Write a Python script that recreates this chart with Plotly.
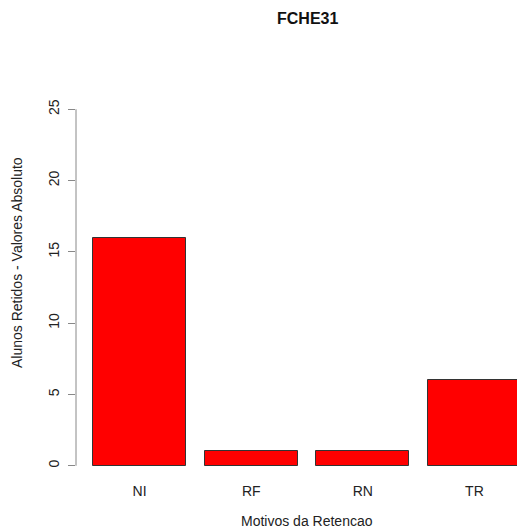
import plotly.graph_objects as go

categories = ["NI", "RF", "RN", "TR"]
values = [16, 1, 1, 6]
y_ticks = [0, 5, 10, 15, 20, 25]
title_text = "FCHE31"
x_title = "Motivos da Retencao"
y_title = "Alunos Retidos - Valores Absoluto"

# R barplot geometry: width 1, space 0.2
bar_w = 1.0
space = 0.2
centers = [space + i * (bar_w + space) + bar_w / 2 for i in range(len(categories))]

FONT = "Liberation Sans, Arial, sans-serif"
TXT = "#222222"

fig = go.Figure()
fig.add_trace(go.Bar(
    x=centers, y=values, width=bar_w,
    marker=dict(color="#FF0000", line=dict(color="#333333", width=1)),
    hoverinfo="skip",
))

xmin = 0.016
fig.update_layout(
    width=517, height=530,
    margin=dict(l=76, r=0, t=95, b=50),
    paper_bgcolor="white", plot_bgcolor="white",
    showlegend=False,
    font=dict(family=FONT, size=14, color=TXT),
    bargap=0,
)
fig.update_xaxes(
    automargin=False,
    range=[xmin, xmin + 441 / 93.0],
    tickvals=centers, ticktext=categories,
    ticks="", showline=False, showgrid=False, zeroline=False,
    tickfont=dict(size=14, family=FONT, color=TXT),
    ticklabelstandoff=1,
)
fig.update_yaxes(
    automargin=False,
    range=[-1, 26],
    tickvals=y_ticks, ticktext=[str(v) for v in y_ticks],
    ticks="outside", ticklen=7, tickcolor="#888888", tickwidth=1,
    tickangle=-90,
    showline=False, showgrid=False, zeroline=False,
    tickfont=dict(size=14, family=FONT, color=TXT),
    ticklabelstandoff=3,
)
# y axis line spanning only the tick range, like R's axis()
fig.add_shape(type="line", xref="paper", yref="y",
              x0=0, x1=0, y0=min(y_ticks), y1=max(y_ticks),
              line=dict(color="#888888", width=1))
mid_x = (xmin + (xmin + 462 / 93.0)) / 2
fig.add_annotation(
    text="<b>" + title_text + "</b>", xref="x", yref="paper",
    x=mid_x, y=1, yshift=77, yanchor="middle",
    showarrow=False, font=dict(size=16, family=FONT, color="#111111"),
)
fig.add_annotation(
    text=x_title, xref="x", yref="paper",
    x=mid_x, y=0, yshift=-41, yanchor="middle",
    showarrow=False, font=dict(size=14, family=FONT, color=TXT),
)
fig.add_annotation(
    text=y_title, xref="paper", yref="paper",
    x=0, xshift=-59, y=0.5636, xanchor="center", yanchor="middle",
    textangle=-90,
    showarrow=False, font=dict(size=14, family=FONT, color=TXT),
)
fig.write_html("out.html",
               config={"displayModeBar": False},
               post_script="document.body.style.margin='0';document.body.style.overflow='hidden';")
